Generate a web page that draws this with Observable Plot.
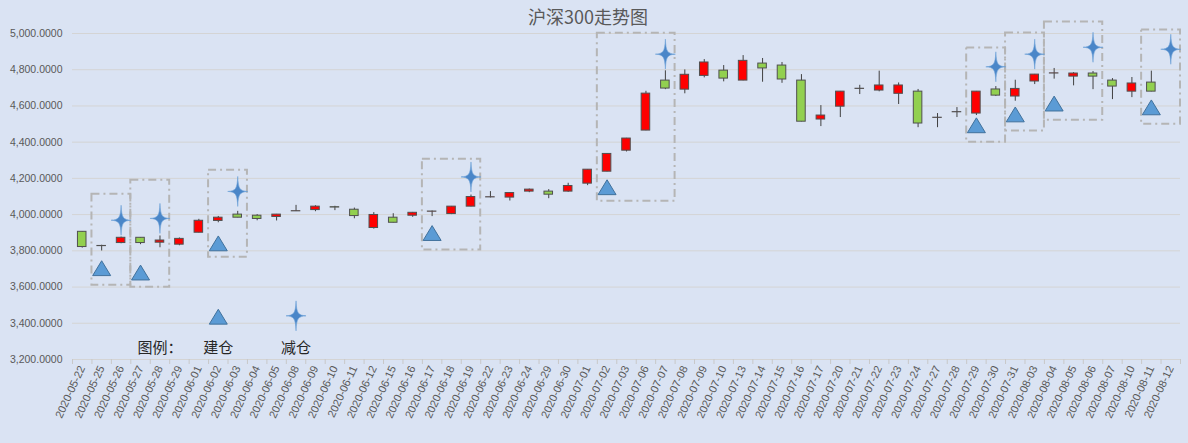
<!DOCTYPE html>
<html><head><meta charset="utf-8">
<script src="https://cdn.jsdelivr.net/npm/d3@7"></script>
<script src="https://cdn.jsdelivr.net/npm/@observablehq/plot@0.6"></script>
<style>
html,body{margin:0;padding:0;background:#dae3f3;}
#wrap{position:relative;width:1188px;height:443px;background:#dae3f3;}
#title{position:absolute;top:3px;left:0;width:1176px;text-align:center;font-size:18px;font-family:"Noto Sans CJK SC","Noto Sans",sans-serif;color:#595959;z-index:2;}
</style></head><body>
<div id="wrap"><div id="title">沪深300走势图</div></div>
<script>
const dates = ["2020-05-22","2020-05-25","2020-05-26","2020-05-27","2020-05-28","2020-05-29","2020-06-01","2020-06-02","2020-06-03","2020-06-04","2020-06-05","2020-06-08","2020-06-09","2020-06-10","2020-06-11","2020-06-12","2020-06-15","2020-06-16","2020-06-17","2020-06-18","2020-06-19","2020-06-22","2020-06-23","2020-06-24","2020-06-29","2020-06-30","2020-07-01","2020-07-02","2020-07-03","2020-07-06","2020-07-07","2020-07-08","2020-07-09","2020-07-10","2020-07-13","2020-07-14","2020-07-15","2020-07-16","2020-07-17","2020-07-20","2020-07-21","2020-07-22","2020-07-23","2020-07-24","2020-07-27","2020-07-28","2020-07-29","2020-07-30","2020-07-31","2020-08-03","2020-08-04","2020-08-05","2020-08-06","2020-08-07","2020-08-10","2020-08-11","2020-08-12"];
const opens  = [3905,3826,3843,3872,3845,3834,3900,3965,4000,3994,3987,4018,4025,4041,4027,3926,3983,3994,4016,4003,4044,4095,4094,4127,4127,4127,4171,4237,4353,4464,4740,4690,4766,4795,4740,4834,4823,4740,4525,4596,4694,4685,4667,4679,4534,4565,4558,4691,4652,4735,4779,4762,4779,4740,4679,4729];
const closes = [3821,3827,3872,3843,3857,3866,3966,3983,3983,3976,4000,4019,4044,4039,3992,3998,3955,4010,4017,4044,4097,4096,4119,4138,4110,4158,4248,4335,4420,4668,4696,4772,4840,4751,4849,4807,4746,4513,4547,4679,4695,4713,4713,4503,4535,4566,4679,4657,4694,4773,4780,4779,4762,4707,4724,4679];
const highs  = [3906,3831,3876,3873,3882,3871,3974,3990,4018,4000,4001,4051,4049,4046,4036,4011,4005,4012,4020,4045,4108,4127,4120,4141,4138,4173,4249,4337,4421,4681,4794,4799,4856,4823,4878,4862,4840,4773,4602,4680,4714,4792,4727,4691,4558,4591,4680,4707,4742,4774,4807,4784,4790,4751,4757,4792];
const lows   = [3815,3799,3839,3834,3817,3828,3899,3955,3982,3966,3965,4017,4016,4022,3977,3920,3954,3985,3989,4000,4043,4092,4075,4121,4088,4123,4160,4236,4346,4463,4690,4667,4755,4733,4739,4731,4725,4512,4486,4536,4663,4678,4608,4480,4480,4536,4547,4652,4626,4718,4748,4711,4690,4635,4646,4678];

const buyDates  = ["2020-05-25","2020-05-27","2020-06-02","2020-06-17","2020-07-02","2020-07-29","2020-07-31","2020-08-04","2020-08-11"];
const buyValues = [3703,3679,3840,3897,4150,4492,4552,4612,4591];
const sellDates  = ["2020-05-26","2020-05-28","2020-06-03","2020-06-19","2020-07-07","2020-07-30","2020-08-03","2020-08-06","2020-08-12"];
const sellValues = [3969,3979,4128,4208,4886,4816,4886,4924,4913];

const boxStarts  = ["2020-05-25","2020-05-27","2020-06-02","2020-06-17","2020-07-02","2020-07-29","2020-07-31","2020-08-04","2020-08-11"];
const boxEnds    = ["2020-05-26","2020-05-28","2020-06-03","2020-06-19","2020-07-07","2020-07-30","2020-08-03","2020-08-06","2020-08-12"];
const boxTops    = [4113,4190,4245,4306,5002,4920,5003,5064,5020];
const boxBottoms = [3610,3599,3765,3804,4074,4400,4461,4521,4499];

const yTicks = [3200,3400,3600,3800,4000,4200,4400,4600,4800,5000];

const legendLabels = ["图例：","建仓","减仓"];
const legendLabelDates = ["2020-05-28","2020-06-02","2020-06-08"];
const legendLabelValue = 3264;
const legendBuyDate = "2020-06-02", legendBuyValue = 3435;
const legendSellDate = "2020-06-08", legendSellValue = 3441;

const idx = d => dates.indexOf(d);
const candles = opens.map((o, i) => ({i, open: o, close: closes[i], high: highs[i], low: lows[i]}));
const buys = buyDates.map((d, k) => ({i: idx(d), value: buyValues[k]})).concat([{i: idx(legendBuyDate), value: legendBuyValue}]);
const sells = sellDates.map((d, k) => ({i: idx(d), value: sellValues[k]})).concat([{i: idx(legendSellDate), value: legendSellValue}]);
const boxes = boxStarts.map((d, k) => ({s: idx(d), e: idx(boxEnds[k]), top: boxTops[k], bottom: boxBottoms[k]}));
const legend = legendLabels.map((t, k) => ({t, i: idx(legendLabelDates[k]), value: legendLabelValue}));

const triangleSym = {draw(ctx, size) {
  const r = Math.sqrt(size / Math.PI);
  ctx.moveTo(0, -0.85 * r); ctx.lineTo(r, 0.8 * r); ctx.lineTo(-r, 0.8 * r); ctx.closePath();
}};
const starSym = {draw(ctx, size) {
  const r = Math.sqrt(size / Math.PI), h = 1.5 * r, a = 0.06 * r, b = 0.22 * r;
  ctx.moveTo(0, -h);
  ctx.bezierCurveTo(a, -b, b, -a, r, 0);
  ctx.bezierCurveTo(b, a, a, b, 0, h);
  ctx.bezierCurveTo(-a, b, -b, a, -r, 0);
  ctx.bezierCurveTo(-b, -a, -a, -b, 0, -h);
  ctx.closePath();
}};

const chart = Plot.plot({
  width: 1188, height: 443,
  marginLeft: 72, marginRight: 8, marginTop: 33, marginBottom: 84,
  x: {type: "linear", domain: [-0.5, dates.length - 0.5], axis: null, label: null},
  y: {domain: [3200, 5000], axis: null, label: null},
  color: {type: "identity"},
  style: {background: "transparent", fontFamily: "'Liberation Sans','Noto Sans CJK SC',sans-serif", fontSize: "10.5px", color: "#595959", overflow: "visible"},
  marks: [
    Plot.ruleY(yTicks, {stroke: "#d4d4d4", strokeWidth: 1}),
    Plot.axisY({ticks: yTicks, tickFormat: d3.format(",.4f"), tickSize: 0, tickPadding: 10, fill: "#595959", fontSize: 10.5, label: null}),
    Plot.axisX({ticks: d3.range(-0.5, dates.length, 1), tickFormat: () => "", tickSize: 5, stroke: "#c8c8c8", label: null}),
    Plot.axisX({ticks: d3.range(dates.length), tickFormat: i => dates[i], tickSize: 0, tickPadding: 7, tickRotate: -65, fill: "#595959", fontSize: 11, label: null}),
    Plot.rect(boxes, {x1: d => d.s - 0.5, x2: d => d.e + 0.5, y1: "bottom", y2: "top", fill: "none", stroke: "#b5b5b5", strokeWidth: 2, strokeDasharray: "8,4,2,4"}),
    Plot.ruleX(candles, {x: "i", y1: "low", y2: "high", stroke: "#404040", strokeWidth: 1}),
    Plot.rect(candles, {x1: d => d.i - 0.22, x2: d => d.i + 0.22, y1: "open", y2: "close", fill: d => d.close > d.open ? "#ff0000" : "#92d050", stroke: "#505050", strokeWidth: 1}),
    Plot.dot(buys, {x: "i", y: "value", symbol: triangleSym, r: 9, fill: "#5b9bd5", stroke: "#41719c", strokeWidth: 1}),
    Plot.dot(sells, {x: "i", y: "value", symbol: starSym, r: 10, fill: "#4a86c8", stroke: "#6fa3d8", strokeWidth: 0.6}),
    Plot.text(legend, {x: "i", y: "value", text: "t", fontSize: 15, fill: "#262626", fontFamily: "'Noto Sans CJK SC',sans-serif"})
  ]
});
document.getElementById("wrap").appendChild(chart);
chart.style.position = "absolute"; chart.style.left = "0"; chart.style.top = "0";
</script>
</body></html>
